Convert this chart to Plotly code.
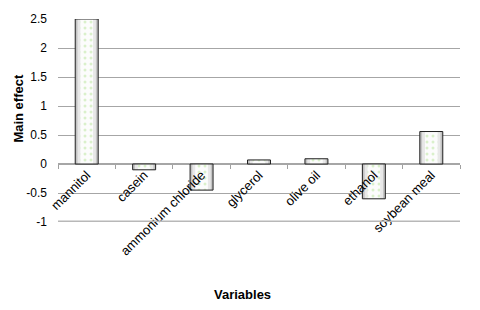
import plotly.graph_objects as go

categories = ["mannitol", "casein", "ammonium chloride", "glycerol", "olive oil", "ethanol", "soybean meal"]
main_effect = [2.5, -0.1, -0.45, 0.07, 0.09, -0.6, 0.56]
y_ticks = [2.5, 2, 1.5, 1, 0.5, 0, -0.5, -1]
y_tick_labels = ["2.5", "2", "1.5", "1", "0.5", "0", "-0.5", "-1"]

FONT = "Liberation Sans"

fig = go.Figure()
# layered bars to fake the cylindrical shading
fig.add_trace(go.Bar(x=categories, y=main_effect, width=0.4,
                     marker=dict(color="#c4c4c4", line=dict(width=0)), hoverinfo="skip"))
fig.add_trace(go.Bar(x=categories, y=main_effect, width=0.32,
                     marker=dict(color="#e8e8e8", line=dict(width=0)), hoverinfo="skip"))
fig.add_trace(go.Bar(x=categories, y=main_effect, width=0.22,
                     marker=dict(color="#fcfcfc", line=dict(width=0),
                                 pattern=dict(shape=".", fgcolor="#b8e39a", size=6, solidity=0.2)),
                     hoverinfo="skip"))
fig.add_trace(go.Bar(x=categories, y=main_effect, width=0.4,
                     marker=dict(color="rgba(0,0,0,0)", line=dict(color="#202020", width=1))))

# page body has an 8px default margin, so offsets compensate for it
fig.update_layout(
    width=480, height=310,
    margin=dict(l=49.5, r=28, t=11, b=96, autoexpand=False),
    paper_bgcolor="white", plot_bgcolor="white",
    barmode="overlay", showlegend=False,
    font=dict(family=FONT, size=12, color="#000000"),
    xaxis=dict(
        type="category", anchor="free", position=1/3.5, automargin=False,
        tickangle=-45, tickson="boundaries", ticks="outside", ticklen=4,
        tickcolor="#a0a0a0", showline=False, showgrid=False,
        tickfont=dict(family=FONT, size=13, color="#000000"),
    ),
    yaxis=dict(
        range=[-1, 2.5], tickvals=y_ticks, ticktext=y_tick_labels, automargin=False,
        showgrid=True, gridcolor="#a6a6a6", gridwidth=1.3,
        zeroline=True, zerolinecolor="#a6a6a6", zerolinewidth=1.5,
        showline=False, ticks="", ticklabelstandoff=10,
        tickfont=dict(family=FONT, size=12, color="#000000"),
    ),
    shapes=[dict(type="line", xref="paper", yref="y", x0=0, x1=1, y0=-1, y1=-1,
                 line=dict(color="#b8b8b8", width=3))],
    annotations=[
        dict(text="<b>Main effect</b>", xref="paper", yref="paper", x=-0.098, y=0.5616,
             xanchor="center", yanchor="middle",
             textangle=-90, showarrow=False, font=dict(family=FONT, size=13, color="#000000")),
        dict(text="<b>Variables</b>", xref="paper", yref="paper", x=0.458, y=-0.355,
             xanchor="center", yanchor="middle",
             showarrow=False, font=dict(family=FONT, size=13, color="#000000")),
    ],
)

fig.write_html("out.html")
